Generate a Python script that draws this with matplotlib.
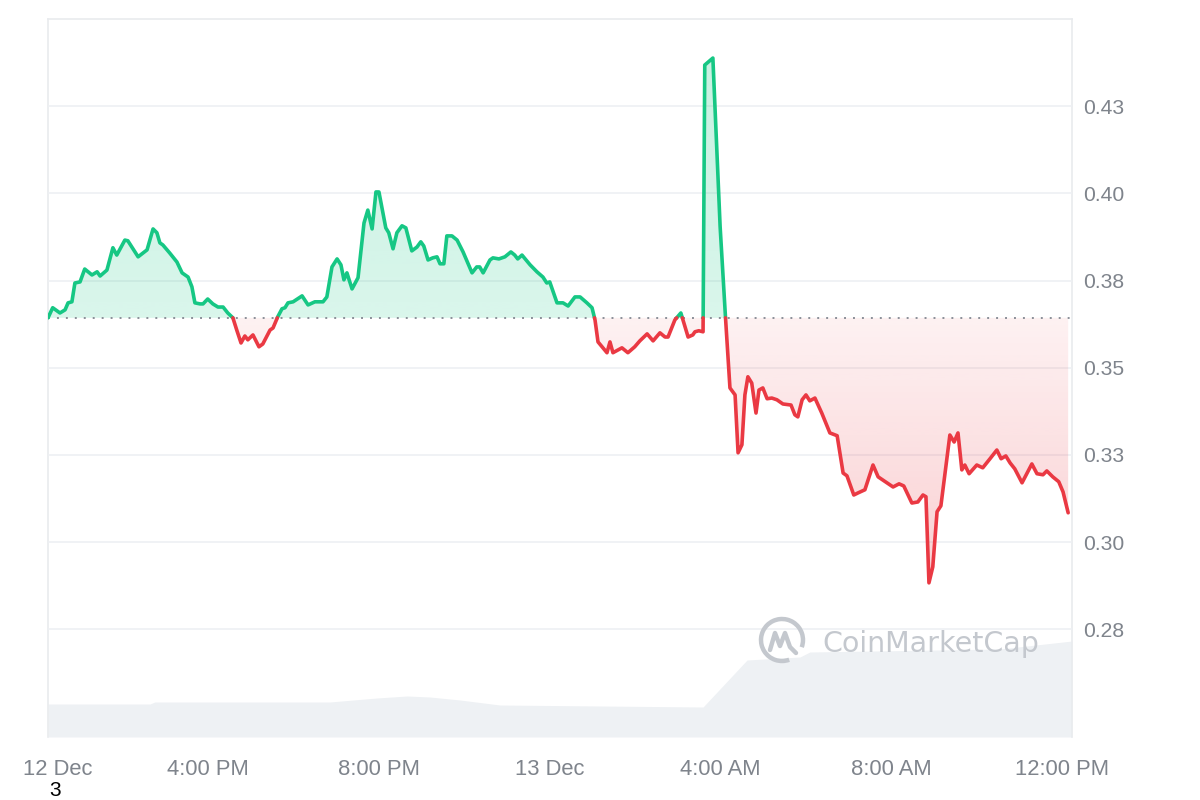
import numpy as np
import matplotlib
matplotlib.use("Agg")
import matplotlib.pyplot as plt
from matplotlib.path import Path
from matplotlib.patches import PathPatch, Arc
from matplotlib.colors import to_rgb

# ---------------- data (hours after 12 Dec 12:00 PM) ----------------
hours = [0.26, 0.37, 0.54, 0.66, 0.73, 0.82, 0.89, 1.01, 1.12, 1.29, 1.41, 1.48, 1.64, 1.78, 1.87,
         2.06, 2.13, 2.37, 2.58, 2.72, 2.81, 2.88, 2.95, 3.11, 3.28, 3.40, 3.54, 3.63, 3.70, 3.82,
         3.89, 4.00, 4.12, 4.24, 4.36, 4.47, 4.59, 4.68, 4.78, 4.87, 4.94, 5.06, 5.20, 5.29, 5.46,
         5.53, 5.64, 5.74, 5.81, 5.88, 6.00, 6.21, 6.35, 6.51, 6.70, 6.79, 6.91, 7.03, 7.12, 7.19,
         7.26, 7.38, 7.52, 7.66, 7.75, 7.85, 7.94, 8.01, 8.17, 8.24, 8.34, 8.43, 8.55, 8.64, 8.78,
         8.90, 8.99, 9.06, 9.16, 9.27, 9.37, 9.44, 9.53, 9.60, 9.72, 9.84, 9.98, 10.19, 10.30, 10.37,
         10.45, 10.61, 10.68, 10.82, 10.96, 11.10, 11.19, 11.26, 11.36, 11.55, 11.71, 11.85, 11.94, 12.01, 12.18,
         12.32, 12.44, 12.60, 12.72, 12.88, 13.00, 13.07, 13.14, 13.35, 13.42, 13.49, 13.70, 13.84, 14.00, 14.12,
         14.29, 14.43, 14.59, 14.71, 14.78, 14.94, 15.08, 15.15, 15.25, 15.36, 15.41, 15.50, 15.60, 15.64, 15.83,
         16.00, 16.11, 16.23, 16.35, 16.42, 16.51, 16.58, 16.65, 16.74, 16.84, 16.91, 17.00, 17.10, 17.21, 17.33,
         17.47, 17.66, 17.75, 17.82, 17.92, 18.01, 18.10, 18.22, 18.38, 18.57, 18.74, 18.88, 18.97, 19.13, 19.23,
         19.39, 19.58, 19.70, 19.81, 20.05, 20.19, 20.30, 20.49, 20.63, 20.75, 20.82, 20.89, 20.98, 21.08, 21.17,
         21.38, 21.48, 21.57, 21.66, 21.73, 21.83, 22.01, 22.15, 22.32, 22.48, 22.58, 22.69, 22.79, 22.90, 23.07,
         23.30, 23.42, 23.56, 23.65, 23.79, 23.93, 24.03, 24.15]

price = [0.3643, 0.3672, 0.3657, 0.3666, 0.3686, 0.3689, 0.3743, 0.3746, 0.3783, 0.3766, 0.3775, 0.3763, 0.3780, 0.3844, 0.3823,
         0.3866, 0.3864, 0.3818, 0.3838, 0.3898, 0.3887, 0.3858, 0.3852, 0.3829, 0.3803, 0.3772, 0.3760, 0.3732, 0.3686, 0.3683,
         0.3683, 0.3697, 0.3683, 0.3674, 0.3674, 0.3657, 0.3643, 0.3608, 0.3571, 0.3591, 0.3580, 0.3594, 0.3560, 0.3568, 0.3608,
         0.3614, 0.3646, 0.3669, 0.3672, 0.3686, 0.3689, 0.3706, 0.3680, 0.3689, 0.3689, 0.3703, 0.3789, 0.3812, 0.3795, 0.3752,
         0.3772, 0.3726, 0.3758, 0.3915, 0.3952, 0.3898, 0.4004, 0.4004, 0.3901, 0.3887, 0.3841, 0.3887, 0.3907, 0.3901, 0.3835,
         0.3846, 0.3861, 0.3849, 0.3809, 0.3815, 0.3818, 0.3798, 0.3798, 0.3878, 0.3878, 0.3866, 0.3832, 0.3772, 0.3789, 0.3789,
         0.3772, 0.3809, 0.3815, 0.3812, 0.3818, 0.3832, 0.3823, 0.3812, 0.3823, 0.3795, 0.3775, 0.3760, 0.3743, 0.3746, 0.3686,
         0.3686, 0.3677, 0.3703, 0.3703, 0.3686, 0.3672, 0.3637, 0.3574, 0.3543, 0.3574, 0.3543, 0.3557, 0.3543, 0.3560, 0.3577,
         0.3597, 0.3577, 0.3600, 0.3588, 0.3588, 0.3637, 0.3657, 0.3629, 0.3588, 0.3594, 0.3603, 0.3606, 0.3603, 0.4368, 0.4388,
         0.3904, 0.3674, 0.3442, 0.3422, 0.3256, 0.3279, 0.3422, 0.3474, 0.3456, 0.3370, 0.3436, 0.3442, 0.3411, 0.3413, 0.3408,
         0.3396, 0.3393, 0.3365, 0.3359, 0.3408, 0.3422, 0.3405, 0.3413, 0.3370, 0.3313, 0.3305, 0.3198, 0.3190, 0.3135, 0.3141,
         0.3150, 0.3221, 0.3187, 0.3178, 0.3158, 0.3167, 0.3161, 0.3112, 0.3115, 0.3135, 0.3130, 0.2883, 0.2929, 0.3087, 0.3104,
         0.3307, 0.3287, 0.3313, 0.3207, 0.3221, 0.3196, 0.3221, 0.3213, 0.3239, 0.3264, 0.3239, 0.3247, 0.3227, 0.3210, 0.3170,
         0.3224, 0.3196, 0.3193, 0.3204, 0.3187, 0.3173, 0.3144, 0.3084]

vol_hours = [0.26, 2.65, 2.76, 6.86, 7.96, 8.67, 9.20, 9.91, 10.84, 15.60, 16.63, 17.87, 18.10, 22.55, 24.24]
volume = [3.3, 3.3, 3.5, 3.5, 3.9, 4.1, 4.0, 3.7, 3.2, 3.0, 7.7, 8.0, 8.5, 8.8, 9.6]   # millions (relative)

tick_hours = [0.48, 4, 8, 12, 16, 20, 24]
tick_labels = ["12 Dec", "4:00 PM", "8:00 PM", "13 Dec", "4:00 AM", "8:00 AM", "12:00 PM"]
price_ticks = [0.275, 0.300, 0.325, 0.350, 0.375, 0.400, 0.425]
price_tick_labels = ["0.28", "0.30", "0.33", "0.35", "0.38", "0.40", "0.43"]

GREEN = "#16c784"
RED = "#ea3943"
TXT = "#7f848c"
FONT = "Liberation Sans"

base = price[0]

# insert crossings with the opening price so colours switch cleanly
x = np.array(hours, float)
y = np.array(price, float)
xs, ys = [x[0]], [y[0]]
for i in range(1, len(x)):
    y0, y1 = y[i - 1], y[i]
    if (y0 - base) * (y1 - base) < 0:
        t = (base - y0) / (y1 - y0)
        xs.append(x[i - 1] + t * (x[i] - x[i - 1]))
        ys.append(base)
    xs.append(x[i])
    ys.append(y[i])
xs = np.array(xs)
ys = np.array(ys)

fig = plt.figure(figsize=(12, 8), dpi=100)
L, R, T, B = 48 / 1200, 1072 / 1200, 1 - 19 / 800, 1 - 737 / 800
axv = fig.add_axes([L, B, R - L, T - B])
ax = axv.twinx()

XMIN, XMAX = 0.26, 24.24
YMIN, YMAX = 0.2441, 0.4500

# volume area
axv.fill_between(vol_hours, 0, volume, color="#eef1f4", lw=0, zorder=1)
axv.set_ylim(0, 71.8)
axv.set_xlim(XMIN, XMAX)
axv.set_yticks([])
for s in ["top", "left", "right"]:
    axv.spines[s].set_color("#e9ebee")
    axv.spines[s].set_linewidth(1.2)
axv.spines["bottom"].set_visible(False)
axv.set_xticks(tick_hours)
axv.set_xticklabels(tick_labels, fontsize=15.8, color=TXT, family=FONT)
axv.tick_params(axis="x", length=0, pad=16)

for s in ax.spines.values():
    s.set_visible(False)


def grad_fill(axis, yclip, color, a_top, a_bot, ylo, yhi, z):
    verts = [(xs[0], base)] + list(zip(xs, yclip)) + [(xs[-1], base), (xs[0], base)]
    patch = PathPatch(Path(verts), facecolor="none", edgecolor="none")
    axis.add_patch(patch)
    n = 256
    img = np.zeros((n, 1, 4))
    img[..., :3] = to_rgb(color)
    img[:, 0, 3] = np.linspace(a_top, a_bot, n)
    im = axis.imshow(img, extent=[xs[0], xs[-1], ylo, yhi], aspect="auto",
                     origin="upper", zorder=z, interpolation="bilinear")
    im.set_clip_path(patch)


grad_fill(ax, np.maximum(ys, base), GREEN, 0.24, 0.16, base, ys.max(), 1)
grad_fill(ax, np.minimum(ys, base), RED, 0.07, 0.24, ys.min(), base, 1)

ax.axhline(base, color="#8a8f98", lw=1.4, ls=(0, (1, 3.6)), zorder=2)

g = np.where(ys >= base, ys, np.nan)
r = np.where(ys <= base, ys, np.nan)
ax.plot(xs, g, color=GREEN, lw=2.6, zorder=3, solid_joinstyle="round", solid_capstyle="round")
ax.plot(xs, r, color=RED, lw=2.6, zorder=3, solid_joinstyle="round", solid_capstyle="round")

ax.set_xlim(XMIN, XMAX)
ax.set_ylim(YMIN, YMAX)
ax.set_yticks(price_ticks)
ax.set_yticklabels(price_tick_labels, fontsize=15.2, color=TXT, family=FONT)
ax.tick_params(axis="y", length=0, pad=8)
ax.set_axisbelow(True)
ax.grid(axis="y", color="#eef0f3", lw=1.2, zorder=0)

# overlay in pixel coordinates for watermark and stray label
ov = fig.add_axes([0, 0, 1, 1])
ov.set_xlim(0, 1200)
ov.set_ylim(800, 0)
ov.axis("off")
ov.patch.set_alpha(0)
WM = "#c4c8ce"
ov.add_patch(Arc((782, 640), 42, 42, theta1=70, theta2=380, color=WM, lw=3.2))
ov.plot([770, 775, 780, 785, 790, 796], [650, 633, 646, 633, 647, 653], color=WM, lw=3.2,
        solid_joinstyle="round", solid_capstyle="round")
ov.text(822, 652, "CoinMarketCap", fontsize=20.5, color=WM, family="DejaVu Sans",
        ha="left", va="baseline", fontweight="medium")
ov.text(55, 790, "3", fontsize=15, color="black", family=FONT, ha="center", va="center")

fig.savefig("out.png", dpi=100)
